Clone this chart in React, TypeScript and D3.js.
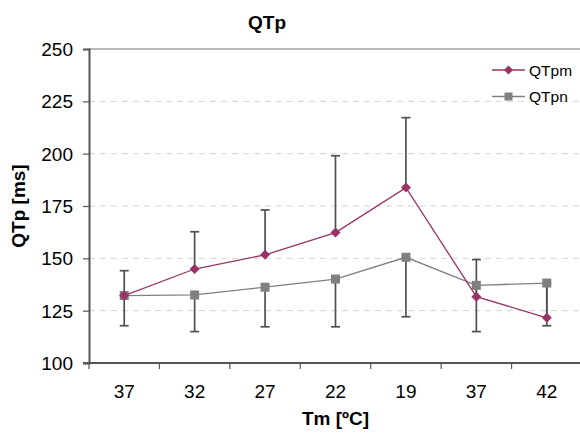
import React, { useEffect, useRef } from "react";
import * as d3 from "d3";

const categories = ["37", "32", "27", "22", "19", "37", "42"];
const qtpm = [132.2, 144.9, 151.7, 162.3, 183.8, 131.7, 121.6];
const qtpn = [132.2, 132.5, 136.2, 140.1, 150.5, 137.1, 138.2];
// upper error for QTpm, lower error for QTpn
const qtpmErrUp = [11.9, 17.8, 21.4, 36.7, 33.4, 17.7, 16.4];
const qtpnErrDown = [14.4, 17.5, 18.9, 22.8, 28.4, 22.1, 20.4];
const yTicks = [100, 125, 150, 175, 200, 225, 250];

export default function App() {
  const ref = useRef<SVGSVGElement>(null);
  const width = 580;
  const height = 439;
  const marginTop = 49;
  const marginRight = -2;
  const marginBottom = 76;
  const marginLeft = 89;

  useEffect(() => {
    const svg = d3.select(ref.current);
    svg.selectAll("*").remove();
    const font = "Arial, 'Liberation Sans', sans-serif";

    const x = d3
      .scaleBand<number>()
      .domain(d3.range(categories.length))
      .range([marginLeft, width - marginRight]);
    const cx = (i: number) => (x(i) as number) + x.bandwidth() / 2;

    const y = d3
      .scaleLinear()
      .domain([100, 250])
      .range([height - marginBottom, marginTop]);

    // gridlines
    svg
      .append("g")
      .selectAll("line")
      .data(yTicks.slice(1))
      .join("line")
      .attr("x1", marginLeft)
      .attr("x2", width - marginRight)
      .attr("y1", (d) => y(d))
      .attr("y2", (d) => y(d))
      .attr("stroke", (d) => (d === 250 ? "#a0a0a0" : "#d4d4d4"))
      .attr("stroke-width", (d) => (d === 250 ? 1.5 : 1))
      .attr("stroke-dasharray", (d) => (d === 250 ? null : "6,5"));

    // y axis
    const yAxis = svg
      .append("g")
      .attr("transform", `translate(${marginLeft},0)`)
      .call(d3.axisLeft(y).tickValues(yTicks).tickSize(6).tickPadding(10));
    yAxis.select(".domain").attr("stroke", "#555").attr("stroke-width", 2);
    yAxis.selectAll(".tick line").attr("stroke", "#555").attr("stroke-width", 1.2);
    yAxis
      .selectAll(".tick text")
      .attr("font-family", font)
      .attr("font-size", 19)
      .attr("dy", "0.35em")
      .attr("fill", "#000");

    // x axis, ticks between categories
    const xg = svg.append("g");
    xg.append("line")
      .attr("x1", marginLeft - 6)
      .attr("x2", width - marginRight)
      .attr("y1", y(100))
      .attr("y2", y(100))
      .attr("stroke", "#555")
      .attr("stroke-width", 2);
    xg.selectAll("line.tk")
      .data(d3.range(categories.length + 1))
      .join("line")
      .attr("class", "tk")
      .attr("x1", (i) => marginLeft + i * x.bandwidth())
      .attr("x2", (i) => marginLeft + i * x.bandwidth())
      .attr("y1", y(100))
      .attr("y2", y(100) + 6)
      .attr("stroke", "#555")
      .attr("stroke-width", 1.2);
    xg.selectAll("text")
      .data(categories)
      .join("text")
      .attr("x", (_, i) => cx(i))
      .attr("y", 398)
      .attr("text-anchor", "middle")
      .attr("font-family", font)
      .attr("font-size", 19)
      .text((d) => d);

    // error bars
    const errColor = "#505050";
    const cap = 4.5;
    const drawErr = (vals: number[], errs: number[], dir: number) => {
      const g = svg.append("g").attr("stroke", errColor).attr("stroke-width", 1.7);
      vals.forEach((v, i) => {
        const end = v + dir * errs[i];
        g.append("line")
          .attr("x1", cx(i))
          .attr("x2", cx(i))
          .attr("y1", y(v))
          .attr("y2", y(end));
        g.append("line")
          .attr("x1", cx(i) - cap)
          .attr("x2", cx(i) + cap)
          .attr("y1", y(end))
          .attr("y2", y(end));
      });
    };
    drawErr(qtpn, qtpnErrDown, -1);
    drawErr(qtpm, qtpmErrUp, 1);

    const line = d3
      .line<number>()
      .x((_, i) => cx(i))
      .y((d) => y(d));

    const grey = "#808080";
    const maroon = "#993366";

    svg
      .append("path")
      .datum(qtpn)
      .attr("fill", "none")
      .attr("stroke", grey)
      .attr("stroke-width", 1.3)
      .attr("d", line);
    svg
      .append("g")
      .selectAll("rect")
      .data(qtpn)
      .join("rect")
      .attr("x", (_, i) => cx(i) - 4.5)
      .attr("y", (d) => y(d) - 4.5)
      .attr("width", 9)
      .attr("height", 9)
      .attr("fill", grey);

    svg
      .append("path")
      .datum(qtpm)
      .attr("fill", "none")
      .attr("stroke", maroon)
      .attr("stroke-width", 1.3)
      .attr("d", line);
    const diamond = (px: number, py: number, r: number) =>
      `M${px},${py - r}L${px + r},${py}L${px},${py + r}L${px - r},${py}Z`;
    svg
      .append("g")
      .selectAll("path")
      .data(qtpm)
      .join("path")
      .attr("d", (d, i) => diamond(cx(i), y(d), 5))
      .attr("fill", maroon);

    // legend
    const legend = [
      { name: "QTpm", color: maroon, shape: "d" },
      { name: "QTpn", color: grey, shape: "s" },
    ];
    const lg = svg.append("g").attr("transform", "translate(492,70)");
    legend.forEach((s, k) => {
      const ly = k * 26.5;
      lg.append("line")
        .attr("x1", 0)
        .attr("x2", 33)
        .attr("y1", ly)
        .attr("y2", ly)
        .attr("stroke", s.color)
        .attr("stroke-width", 1.5);
      if (s.shape === "d") {
        lg.append("path").attr("d", diamond(16.5, ly, 4.5)).attr("fill", s.color);
      } else {
        lg.append("rect")
          .attr("x", 12.5)
          .attr("y", ly - 4)
          .attr("width", 8)
          .attr("height", 8)
          .attr("fill", s.color);
      }
      lg.append("text")
        .attr("x", 37)
        .attr("y", ly + 5.5)
        .attr("font-family", font)
        .attr("font-size", 15.5)
        .text(s.name);
    });

    // titles
    svg
      .append("text")
      .attr("x", 267)
      .attr("y", 29)
      .attr("text-anchor", "middle")
      .attr("font-family", font)
      .attr("font-size", 19)
      .attr("font-weight", "bold")
      .text("QTp");
    svg
      .append("text")
      .attr("x", (marginLeft + width - marginRight) / 2)
      .attr("y", 425)
      .attr("text-anchor", "middle")
      .attr("font-family", font)
      .attr("font-size", 19)
      .attr("font-weight", "bold")
      .text("Tm [ºC]");
    svg
      .append("text")
      .attr("transform", `translate(25,${(y(100) + y(250)) / 2}) rotate(-90)`)
      .attr("text-anchor", "middle")
      .attr("font-family", font)
      .attr("font-size", 19)
      .attr("font-weight", "bold")
      .text("QTp [ms]");
  }, []);

  return (
    <svg
      ref={ref}
      width={width}
      height={height}
      style={{ position: "absolute", left: 0, top: 0, background: "#fff" }}
    ></svg>
  );
}
